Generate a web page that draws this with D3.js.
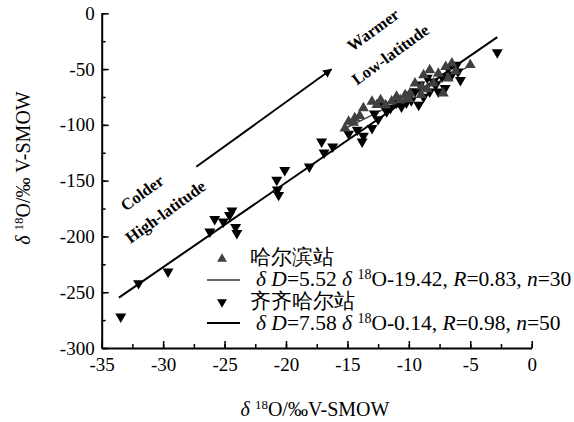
<!DOCTYPE html>
<html>
<head>
<meta charset="utf-8">
<script src="https://cdn.jsdelivr.net/npm/d3@7"></script>
<style>
  body { margin: 0; background: #fff; }
  text { font-family: "Liberation Serif", "Times New Roman", serif; }
</style>
</head>
<body>
<svg></svg>
<script>
// Harbin station (up triangles)
let harbinX = [-15.2, -14.9, -14.5, -14.4, -14.0, -13.7, -13.0, -12.6, -12.3, -11.9, -11.4, -11.0, -10.7, -10.3, -10.0,
               -9.9, -9.5, -9.0, -8.95, -8.8, -8.5, -8.3, -8.0, -7.6, -7.2, -7.0, -6.8, -6.5, -6.2, -5.0]
let harbinY = [-103, -97, -98, -94, -92, -85, -79.2, -82, -77.7, -82.2, -79, -74.7, -77.7, -73.2, -77,
               -71.7, -62.7, -73, -65.8, -55.3, -68, -50.8, -62.7, -54, -71.7, -48, -58.3, -44.8, -52, -46.3]

// Qiqihar station (down triangles)
let qqhrX = [-33.45, -32.0, -29.6, -26.2, -25.8, -25.1, -24.6, -24.4, -24.1, -24.0, -20.75, -20.6, -20.7, -20.1, -18.1,
             -17.1, -16.9, -16.2, -14.9, -14.2, -13.8, -13.7, -13.0, -12.8, -12.5, -12.1, -11.8, -11.5, -11.0, -10.6,
             -10.2, -10.0, -9.8, -9.5, -9.2, -9.1, -8.8, -8.5, -8.3, -8.0, -7.8, -7.6, -7.3, -7.05, -6.8,
             -6.5, -6.1, -6.0, -5.8, -2.8]
let qqhrY = [-272, -242, -231.6, -195.7, -184.6, -186.8, -181, -177, -191.8, -197, -149.4, -162.9, -158, -140.5, -137.5,
             -115, -125, -119.5, -108, -104.6, -115, -110, -103, -90, -95, -82.2, -88, -85, -80, -83.7,
             -80, -73, -78, -70, -82.2, -64, -75, -58, -70.3, -61.3, -64, -70.3, -56.8, -67.2, -49.3,
             -55, -46.3, -52.3, -60, -35]

// regression lines: slope, intercept, x extent
let harbinFit = { slope: 5.52, intercept: -19.42, from: -15.2, to: -4.8 }
let qqhrFit = { slope: 7.58, intercept: -0.14, from: -33.6, to: -2.8 }

let xTicks = [-35, -30, -25, -20, -15, -10, -5, 0]
let yTicks = [0, -50, -100, -150, -200, -250, -300]

let width = 574
let height = 422

let svg = d3.select('svg').attr('width', width).attr('height', height)

let xScale = d3.scaleLinear().domain([-35, 0]).range([101.7, 531.7])
let yScale = d3.scaleLinear().domain([-300, 0]).range([348, 13.3])

// axes (ticks point inward, minor ticks between majors)
let xMinor = d3.range(-35, 0.1, 2.5)
let yMinor = d3.range(-300, 0.1, 25)

svg.append('g')
  .attr('transform', 'translate(0,' + yScale(-300) + ')')
  .call(d3.axisBottom(xScale).tickValues(xMinor).tickSize(-4).tickSizeOuter(0).tickFormat(''))
  .call(g => g.select('.domain').remove())
svg.append('g')
  .attr('transform', 'translate(' + xScale(-35) + ',0)')
  .call(d3.axisLeft(yScale).tickValues(yMinor).tickSize(-4).tickSizeOuter(0).tickFormat(''))
  .call(g => g.select('.domain').remove())

let xAxis = svg.append('g')
  .attr('transform', 'translate(0,' + yScale(-300) + ')')
  .call(d3.axisBottom(xScale).tickValues(xTicks).tickSize(-7).tickSizeOuter(0).tickPadding(10).tickFormat(d3.format('d')))
let yAxis = svg.append('g')
  .attr('transform', 'translate(' + xScale(-35) + ',0)')
  .call(d3.axisLeft(yScale).tickValues(yTicks).tickSize(-7).tickSizeOuter(0).tickPadding(7).tickFormat(d3.format('d')))

svg.selectAll('.tick line').attr('stroke', '#000').attr('stroke-width', 1.5)
svg.selectAll('.domain').attr('stroke', '#000').attr('stroke-width', 2)
svg.selectAll('.tick text')
  .attr('font-family', '"Liberation Serif", serif')
  .attr('font-size', 19)
  .attr('fill', '#000')
yAxis.selectAll('.tick text').text(d => d3.format('d')(d).replace('−', '-'))
xAxis.selectAll('.tick text').text(d => d3.format('d')(d).replace('−', '-'))

// regression lines
let fitLine = (fit) => [
  [xScale(fit.from), yScale(fit.slope * fit.from + fit.intercept)],
  [xScale(fit.to), yScale(fit.slope * fit.to + fit.intercept)]
]
svg.append('path')
  .attr('d', d3.line()(fitLine(qqhrFit)))
  .attr('stroke', '#000').attr('stroke-width', 2).attr('fill', 'none')
svg.append('path')
  .attr('d', d3.line()(fitLine(harbinFit)))
  .attr('stroke', '#3a3a3a').attr('stroke-width', 1.3).attr('fill', 'none')

// points
let tri = d3.symbol(d3.symbolTriangle, 52)
svg.append('g').selectAll('path')
  .data(d3.range(qqhrX.length))
  .enter().append('path')
  .attr('d', tri)
  .attr('transform', i => 'translate(' + xScale(qqhrX[i]) + ',' + yScale(qqhrY[i]) + ') rotate(180)')
  .attr('fill', '#000')
svg.append('g').selectAll('path')
  .data(d3.range(harbinX.length))
  .enter().append('path')
  .attr('d', tri)
  .attr('transform', i => 'translate(' + xScale(harbinX[i]) + ',' + yScale(harbinY[i]) + ')')
  .attr('fill', '#404040')

// trend arrow and labels
svg.append('defs').append('marker')
  .attr('id', 'arrow').attr('viewBox', '0 0 10 10')
  .attr('refX', 9).attr('refY', 5)
  .attr('markerWidth', 9).attr('markerHeight', 9)
  .attr('markerUnits', 'userSpaceOnUse')
  .attr('orient', 'auto')
  .append('path').attr('d', 'M0,0 L10,5 L0,10 z').attr('fill', '#000')

svg.append('line')
  .attr('x1', xScale(-27.3)).attr('y1', yScale(-137.5))
  .attr('x2', xScale(-16.3)).attr('y2', yScale(-50.2))
  .attr('stroke', '#000').attr('stroke-width', 2)
  .attr('marker-end', 'url(#arrow)')

let notes = [
  { text: 'Colder', x: -31.7, y: -161 },
  { text: 'High-latitude', x: -29.8, y: -178 },
  { text: 'Warmer', x: -12.9, y: -15 },
  { text: 'Low-latitude', x: -11.5, y: -37 }
]
svg.append('g').selectAll('text')
  .data(notes)
  .enter().append('text')
  .attr('transform', d => 'translate(' + xScale(d.x) + ',' + yScale(d.y) + ') rotate(-36)')
  .attr('text-anchor', 'middle')
  .attr('dominant-baseline', 'central')
  .attr('font-weight', 'bold')
  .attr('font-size', 16.5)
  .text(d => d.text)

// legend
let legend = svg.append('g')
legend.append('path').attr('d', d3.symbol(d3.symbolTriangle, 42))
  .attr('transform', 'translate(222,259)').attr('fill', '#404040')
legend.append('line').attr('x1', 207).attr('x2', 240).attr('y1', 280).attr('y2', 280)
  .attr('stroke', '#3a3a3a').attr('stroke-width', 1.3)
legend.append('path').attr('d', d3.symbol(d3.symbolTriangle, 42))
  .attr('transform', 'translate(222,302) rotate(180)').attr('fill', '#000')
legend.append('line').attr('x1', 207).attr('x2', 240).attr('y1', 323).attr('y2', 323)
  .attr('stroke', '#000').attr('stroke-width', 2)

let cjk = '"Noto Sans CJK SC", sans-serif'
legend.append('text').attr('x', 250).attr('y', 264)
  .attr('font-family', cjk).attr('font-size', 21).text('哈尔滨站')
legend.append('text').attr('x', 250).attr('y', 308)
  .attr('font-family', cjk).attr('font-size', 21).text('齐齐哈尔站')

let equation = (y, slope, icpt, r, n) => {
  let t = legend.append('text').attr('x', 256).attr('y', y).attr('font-size', 21.5)
  t.append('tspan').attr('font-style', 'italic').text('δ D')
  t.append('tspan').text('=' + slope + ' ')
  t.append('tspan').attr('font-style', 'italic').text('δ ')
  t.append('tspan').attr('font-size', 14).attr('dy', -7).text('18')
  t.append('tspan').attr('dy', 7).text('O-' + icpt + ', ')
  t.append('tspan').attr('font-style', 'italic').text('R')
  t.append('tspan').text('=' + r + ', ')
  t.append('tspan').attr('font-style', 'italic').text('n')
  t.append('tspan').text('=' + n)
}
equation(286, '5.52', '19.42', '0.83', 30)
equation(330, '7.58', '0.14', '0.98', 50)

// axis titles
let xt = svg.append('text').attr('x', 315).attr('y', 416).attr('text-anchor', 'middle').attr('font-size', 20)
xt.append('tspan').attr('font-style', 'italic').text('δ ')
xt.append('tspan').attr('font-size', 13).attr('dy', -7).text('18')
xt.append('tspan').attr('dy', 7).text('O/‰V-SMOW')

let yt = svg.append('text').attr('transform', 'translate(30,168) rotate(-90)')
  .attr('text-anchor', 'middle').attr('font-size', 20)
yt.append('tspan').attr('font-style', 'italic').text('δ ')
yt.append('tspan').attr('font-size', 13).attr('dy', -7).text('18')
yt.append('tspan').attr('dy', 7).text('O/‰ V-SMOW')
</script>
</body>
</html>
